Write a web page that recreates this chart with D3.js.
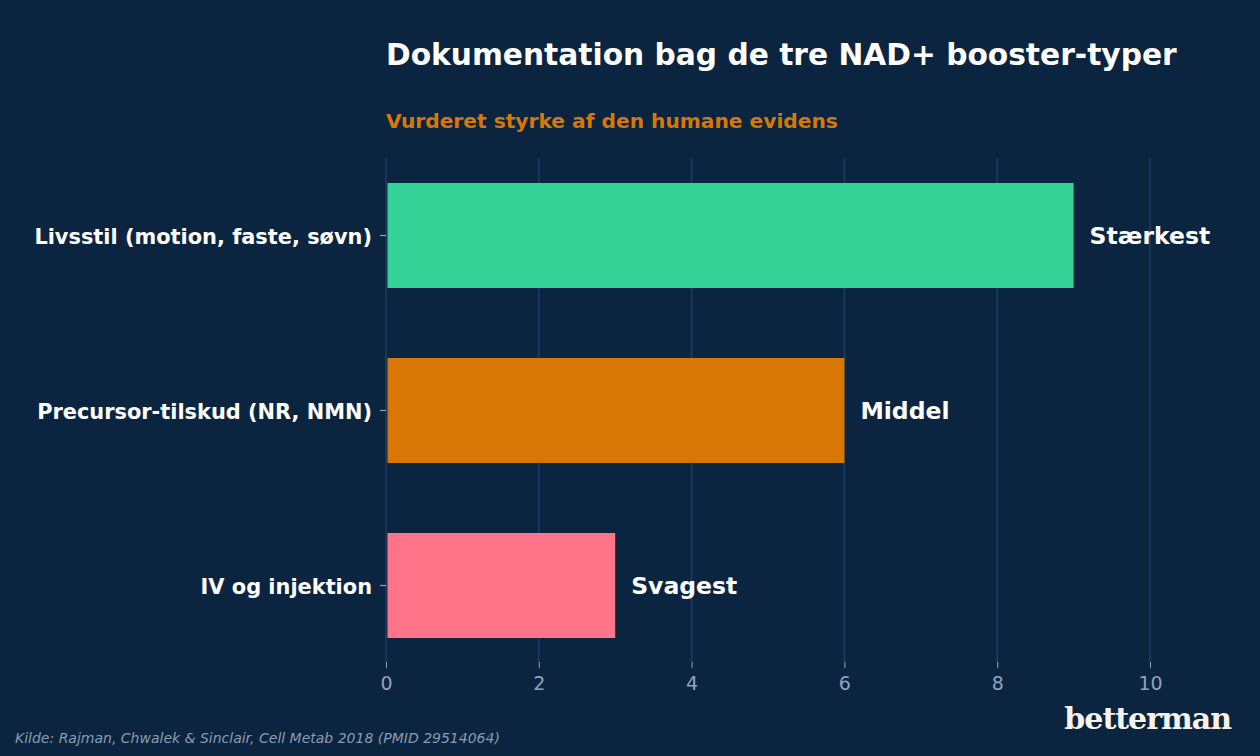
<!DOCTYPE html>
<html>
<head>
<meta charset="utf-8">
<script src="https://cdn.jsdelivr.net/npm/d3@7"></script>
<style>
  html, body { margin: 0; padding: 0; background: #0b2540; }
  svg { display: block; }
</style>
</head>
<body>
<svg id="chart"></svg>
<script>
const categories = ['Livsstil (motion, faste, søvn)', 'Precursor-tilskud (NR, NMN)', 'IV og injektion'];
const scores = [9, 6, 3];
const valueLabels = ['Stærkest', 'Middel', 'Svagest'];
const barColors = ['#36d399', '#d97706', '#ff7489'];
const xTicks = [0, 2, 4, 6, 8, 10];

const width = 1260;
const height = 756;
const bg = '#0b2540';

const svg = d3.select('#chart')
  .attr('width', width)
  .attr('height', height)
  .style('font-family', '"DejaVu Sans", sans-serif');

svg.append('rect')
  .attr('width', width)
  .attr('height', height)
  .attr('fill', bg);

const x = d3.scaleLinear().domain([0, 10]).range([386, 1150]);
const y = d3.scaleBand().domain(categories).range([148, 673])
  .paddingInner(0.4).paddingOuter(0.2);

// grid
svg.append('g')
  .selectAll('line')
  .data(xTicks)
  .enter().append('line')
  .attr('x1', d => x(d))
  .attr('x2', d => x(d))
  .attr('y1', 158)
  .attr('y2', 662)
  .attr('stroke', '#1d3d63')
  .attr('stroke-width', 1.5);

// x axis
const xAxis = svg.append('g')
  .attr('transform', 'translate(0,662)')
  .call(d3.axisBottom(x).tickValues(xTicks).tickSize(6).tickPadding(9));
xAxis.select('.domain').remove();
xAxis.selectAll('line').attr('stroke', '#8fa3bf').attr('stroke-width', 1);
xAxis.selectAll('text')
  .attr('fill', '#8fa3bf')
  .style('font-size', '19px')
  .style('font-family', '"DejaVu Sans", sans-serif');

// y axis
const yAxis = svg.append('g')
  .attr('transform', 'translate(386,0)')
  .call(d3.axisLeft(y).tickSize(6).tickPadding(8));
yAxis.select('.domain').remove();
yAxis.selectAll('line').attr('stroke', '#8fa3bf').attr('stroke-width', 1.2);
yAxis.selectAll('text')
  .attr('fill', '#ffffff')
  .attr('dy', '0.4em')
  .style('font-size', '20.9px')
  .style('font-weight', 'bold')
  .style('font-family', '"DejaVu Sans", sans-serif');

// bars
svg.append('g')
  .selectAll('rect')
  .data(categories)
  .enter().append('rect')
  .attr('x', x(0) + 1.5)
  .attr('y', d => y(d))
  .attr('width', (d, i) => x(scores[i]) - x(0) - 1.5)
  .attr('height', y.bandwidth())
  .attr('fill', (d, i) => barColors[i]);

// value labels
svg.append('g')
  .selectAll('text')
  .data(categories)
  .enter().append('text')
  .attr('x', (d, i) => x(scores[i]) + 16)
  .attr('y', d => y(d) + y.bandwidth() / 2)
  .attr('dy', '0.35em')
  .attr('fill', '#ffffff')
  .style('font-size', '23.5px')
  .style('font-weight', 'bold')
  .text((d, i) => valueLabels[i]);

// titles
svg.append('text')
  .attr('x', 386)
  .attr('y', 65)
  .attr('fill', '#ffffff')
  .style('font-size', '29.7px')
  .style('font-weight', 'bold')
  .text('Dokumentation bag de tre NAD+ booster-typer');

svg.append('text')
  .attr('x', 386)
  .attr('y', 128)
  .attr('fill', '#d97706')
  .style('font-size', '20.2px')
  .style('font-weight', 'bold')
  .text('Vurderet styrke af den humane evidens');

// footer
svg.append('text')
  .attr('x', 15)
  .attr('y', 743)
  .attr('fill', '#8a9bb0')
  .style('font-size', '14px')
  .style('font-style', 'italic')
  .text('Kilde: Rajman, Chwalek & Sinclair, Cell Metab 2018 (PMID 29514064)');

svg.append('text')
  .attr('x', 1231)
  .attr('y', 729)
  .attr('text-anchor', 'end')
  .attr('fill', '#f7f3ec')
  .style('font-size', '30px')
  .style('font-weight', 'bold')
  .style('font-family', '"DejaVu Serif", serif')
  .style('letter-spacing', '-1px')
  .text('betterman');
</script>
</body>
</html>
